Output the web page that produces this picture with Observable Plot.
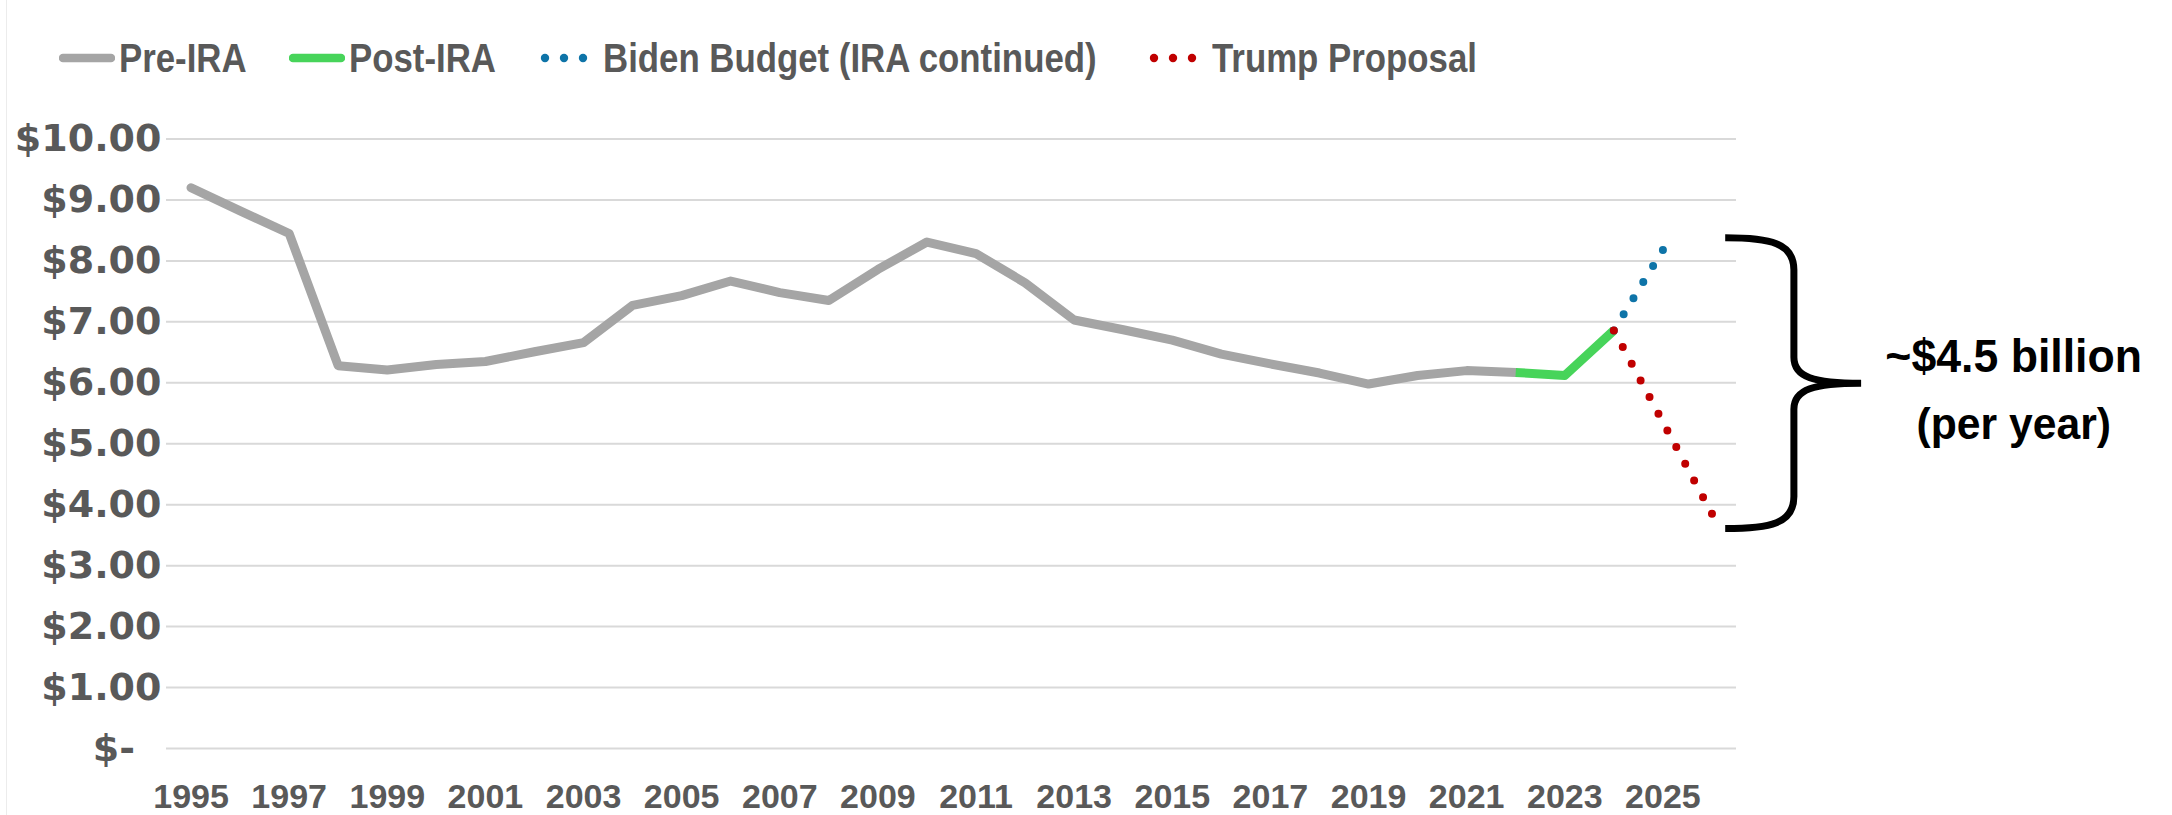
<!DOCTYPE html>
<html><head><meta charset="utf-8">
<script src="https://cdn.jsdelivr.net/npm/d3@7"></script>
<script src="https://cdn.jsdelivr.net/npm/@observablehq/plot@0.6"></script>
<style>
body{margin:0;background:#fff;}
#wrap{position:relative;width:2172px;height:815px;overflow:hidden;background:#fff;}
#edge{position:absolute;left:6px;top:0;width:1px;height:815px;background:#ececec;}
#legend{position:relative;height:100px;width:2172px;font-family:"Liberation Sans",Arial,sans-serif;font-weight:bold;font-size:40px;color:#595959;}
.item{position:absolute;top:8px;height:100px;display:flex;align-items:center;white-space:nowrap;}
.item svg{flex:none;}
.item span{display:inline-block;transform:scaleX(0.87);transform-origin:0 50%;}
#chart svg{display:block;overflow:visible;}
</style></head>
<body>
<div id="wrap"><div id="edge"></div><div id="legend"></div><div id="chart"></div></div>
<script>
// ---- data ----
const preYears = [1995,1996,1997,1998,1999,2000,2001,2002,2003,2004,2005,2006,2007,2008,2009,2010,2011,2012,2013,2014,2015,2016,2017,2018,2019,2020,2021,2022];
const preValues = [9.20,8.82,8.45,6.28,6.21,6.30,6.35,6.51,6.66,7.27,7.43,7.67,7.48,7.35,7.86,8.31,8.12,7.64,7.03,6.87,6.70,6.47,6.31,6.16,5.98,6.12,6.20,6.17];
const postYears = [2022,2023,2024];
const postValues = [6.17,6.12,6.86];
const bidenYears = [2024,2025];
const bidenValues = [6.86,8.18];
const trumpYears = [2024,2026];
const trumpValues = [6.86,3.85];
const seriesNames = ["Pre-IRA","Post-IRA","Biden Budget (IRA continued)","Trump Proposal"];
const seriesColors = ["#A5A5A5","#47D45A","#0E74A8","#C00000"];
const seriesDotted = [false,false,true,true];
const yTicks = [0,1,2,3,4,5,6,7,8,9,10];
const xTicks = [1995,1997,1999,2001,2003,2005,2007,2009,2011,2013,2015,2017,2019,2021,2023,2025];
const annotationLines = ["~$4.5 billion","(per year)"];
const annotationValues = [6.42,5.31];
const braceRange = [8.37,3.6];

const toRows = (ys, vs) => ys.map((y,i)=>({year:y, value:vs[i]}));
const sans = '"Liberation Sans",Arial,sans-serif';

// ---- legend ----
const legendLeft = [59,289,536,1145];
const legend = d3.select("#legend");
seriesNames.forEach((name,i)=>{
  const it = legend.append("div").attr("class","item").style("left",legendLeft[i]+"px");
  const s = it.append("svg").attr("width",56).attr("height",20);
  if(seriesDotted[i]){
    [9,28,47].forEach(cx=>s.append("circle").attr("cx",cx).attr("cy",10).attr("r",4.2).attr("fill",seriesColors[i]));
    it.append("span").style("margin-left","11px").text(name);
  } else {
    s.append("line").attr("x1",4).attr("x2",52).attr("y1",10).attr("y2",10)
      .attr("stroke",seriesColors[i]).attr("stroke-width",8.5).attr("stroke-linecap","round");
    it.append("span").style("margin-left","4px").text(name);
  }
});

// ---- chart ----
const dotted = {strokeWidth:8, strokeLinecap:"round", strokeDasharray:"0 19"};
const plot = Plot.plot({
  width:2172, height:715,
  marginTop:38.5, marginBottom:67, marginLeft:166, marginRight:436,
  x:{type:"linear", domain:[1994.5,2026.5]},
  y:{domain:[0,10]},
  style:{background:"transparent", overflow:"visible"},
  marks:[
    Plot.ruleY(yTicks,{stroke:"#D9D9D9", strokeWidth:2}),
    Plot.axisY({ticks:yTicks, tickFormat:d=> d===0 ? "$-\u00a0\u00a0" : "$"+d.toFixed(2), tickSize:0, tickPadding:5,
      fontSize:38, fontWeight:"bold", fontFamily:"DejaVu Sans", fill:"#595959", label:null}),
    Plot.axisX({ticks:xTicks, tickFormat:d=>String(d), tickSize:0, tickPadding:35,
      fontSize:34, fontWeight:"bold", fontFamily:sans, fill:"#595959", label:null}),
    Plot.line(toRows(preYears,preValues),{x:"year", y:"value", stroke:seriesColors[0], strokeWidth:9, strokeLinejoin:"round", strokeLinecap:"round"}),
    Plot.line(toRows(postYears,postValues),{x:"year", y:"value", stroke:seriesColors[1], strokeWidth:9, strokeLinejoin:"round", strokeLinecap:"butt"}),
    Plot.line(toRows(bidenYears,bidenValues),{x:"year", y:"value", stroke:seriesColors[2], ...dotted}),
    Plot.line(toRows(trumpYears,trumpValues),{x:"year", y:"value", stroke:seriesColors[3], ...dotted}),
    Plot.text([annotationLines[0]],{x:()=>2032.15, y:()=>annotationValues[0], text:d=>d, fontSize:46, fontWeight:"bold", fontFamily:sans, fill:"#000"}),
    Plot.text([annotationLines[1]],{x:()=>2032.15, y:()=>annotationValues[1], text:d=>d, fontSize:44, fontWeight:"bold", fontFamily:sans, fill:"#000"})
  ]
});
document.getElementById("chart").appendChild(plot);

// condensed look (narrow bold face) by compressing glyphs horizontally
function condense(nodes, f){
  nodes.forEach(t=>{
    const w = t.getComputedTextLength();
    t.setAttribute("textLength", (w*f).toFixed(2));
    t.setAttribute("lengthAdjust","spacingAndGlyphs");
  });
}
condense(plot.querySelectorAll('g[aria-label="text"] text'), 0.97);

// dotted lines: make the dot spacing fit the segment so both ends get a dot
const lineGroups = plot.querySelectorAll('g[aria-label="line"]');
[2,3].forEach(k=>{
  const g = lineGroups[k]; if(!g) return;
  g.querySelectorAll("path").forEach(path=>{
    const L = path.getTotalLength();
    const n = Math.max(1, Math.round(L/19));
    path.setAttribute("stroke-dasharray", "0 " + (L/n - 0.001).toFixed(3));
  });
});

// ---- brace annotation (positioned through the plot's scales) ----
const xs = plot.scale("x"), ys = plot.scale("y");
const bTop = ys.apply(braceRange[0]), bBot = ys.apply(braceRange[1]), bMid = (bTop+bBot)/2;
const xL = xs.apply(2026.28), xV = xs.apply(2027.68), xT = xs.apply(2029.05);
const p = d3.path();
p.moveTo(xL,bTop);
p.bezierCurveTo(xL+45,bTop, xV,bTop+5, xV,bTop+32);
p.lineTo(xV,bMid-26);
p.bezierCurveTo(xV,bMid-6, xV+20,bMid, xT,bMid);
p.bezierCurveTo(xV+20,bMid, xV,bMid+6, xV,bMid+26);
p.lineTo(xV,bBot-32);
p.bezierCurveTo(xV,bBot-5, xL+45,bBot, xL,bBot);
d3.select(plot).append("path").attr("d",p.toString()).attr("fill","none").attr("stroke","#000").attr("stroke-width",7).attr("stroke-linecap","butt");
</script>
</body></html>
